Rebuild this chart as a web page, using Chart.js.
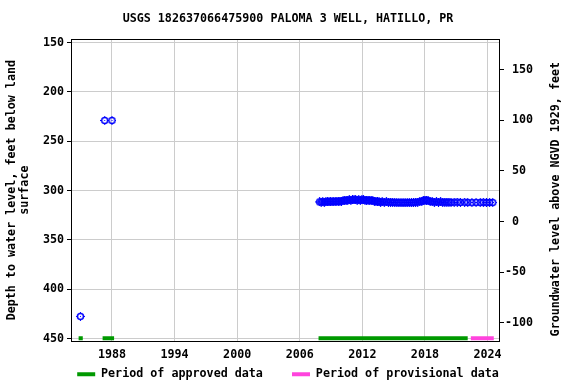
<!DOCTYPE html>
<html>
<head>
<meta charset="utf-8">
<script src="https://cdn.jsdelivr.net/npm/chart.js@4/dist/chart.umd.min.js"></script>
<style>
  html, body { margin: 0; padding: 0; background: #fff; }
  canvas { display: block; }
</style>
</head>
<body>
<canvas id="wellChart" width="576" height="384"></canvas>
<script>
// water level measurements (decimal year, depth below land surface in feet)
const obsYears = [
  1984.97, 1987.3, 1988.0,
  2007.9, 2008.05, 2008.2, 2008.35, 2008.5, 2008.65, 2008.8, 2008.95, 2009.1, 2009.25, 2009.4,
  2009.55, 2009.7, 2009.85, 2010.0, 2010.15, 2010.3, 2010.45, 2010.6, 2010.75, 2010.9,
  2011.05, 2011.2, 2011.35, 2011.5, 2011.65, 2011.8, 2011.95, 2012.1, 2012.25, 2012.4,
  2012.55, 2012.7, 2012.85, 2013.0, 2013.15, 2013.3, 2013.45, 2013.6, 2013.75, 2013.9,
  2014.1, 2014.3, 2014.5, 2014.7, 2014.9, 2015.1, 2015.3, 2015.5, 2015.7, 2015.9,
  2016.1, 2016.3, 2016.5, 2016.7, 2016.9, 2017.1, 2017.3, 2017.5, 2017.7, 2017.85,
  2018.0, 2018.15, 2018.3, 2018.5, 2018.7, 2018.9, 2019.1, 2019.3, 2019.5, 2019.7,
  2019.9, 2020.1, 2020.3, 2020.5, 2020.8, 2021.1, 2021.4, 2021.8, 2022.1, 2022.5,
  2022.9, 2023.3, 2023.6, 2023.9, 2024.2, 2024.5
];
const obsDepths = [
  427.5, 229.0, 229.0,
  311.5, 311.6, 311.4, 311.6, 311.3, 311.5, 311.2, 311.4, 311.0, 311.3, 311.1,
  310.8, 311.0, 310.7, 310.6, 310.4, 310.1, 309.8, 309.6, 309.5, 309.7,
  309.3, 309.5, 309.2, 309.6, 309.4, 309.7, 309.5, 309.4, 309.8, 309.6,
  309.9, 309.7, 310.1, 310.3, 310.6, 311.0, 311.2, 311.4, 311.6, 311.4,
  311.7, 311.5, 311.8, 311.6, 312.0, 311.9, 312.3, 312.1, 312.4, 312.2,
  312.4, 312.2, 312.1, 312.3, 312.0, 311.8, 311.6, 311.3, 310.8, 310.2,
  309.6, 309.8, 310.3, 310.9, 311.3, 311.6, 311.4, 311.7, 311.5, 311.8,
  311.6, 311.9, 311.6, 312.0, 311.8, 311.7, 312.0, 311.8, 312.0, 312.2,
  312.0, 312.1, 311.9, 312.2, 312.0, 312.1
];

// approval periods [start, end] in decimal years
const approvedPeriods = [[1984.8, 1985.2], [1987.1, 1988.2], [2007.8, 2022.1]];
const provisionalPeriods = [[2022.4, 2024.6]];
const periodDepth = 449.6;

const xTicks = [1988, 1994, 2000, 2006, 2012, 2018, 2024];
const depthTicks = [150, 200, 250, 300, 350, 400, 450];
const elevTicks = [-100, -50, 0, 50, 100, 150];

const titleText = 'USGS 182637066475900 PALOMA 3 WELL, HATILLO, PR';
const leftTitle = ['Depth to water level, feet below land', 'surface'];
const rightTitle = 'Groundwater level above NGVD 1929, feet';

const FONT = 'DejaVu Sans Mono';
Chart.defaults.font.family = FONT;
Chart.defaults.font.size = 11.7;
Chart.defaults.font.weight = 'bold';
Chart.defaults.color = '#000';

// circle with small ticks and a centre dot, like the USGS marker
function makeMarker(color) {
  const c = document.createElement('canvas');
  c.width = 9; c.height = 9;
  const g = c.getContext('2d');
  g.strokeStyle = color;
  g.fillStyle = color;
  g.lineWidth = 1.5;
  g.beginPath();
  g.arc(4.5, 4.5, 3, 0, Math.PI * 2);
  g.stroke();
  g.lineWidth = 1;
  g.beginPath();
  g.moveTo(4.5, 0); g.lineTo(4.5, 1.5);
  g.moveTo(4.5, 7.5); g.lineTo(4.5, 9);
  g.moveTo(0, 4.5); g.lineTo(1.5, 4.5);
  g.moveTo(7.5, 4.5); g.lineTo(9, 4.5);
  g.stroke();
  g.fillRect(4, 4, 1, 1);
  return c;
}

function periodData(periods) {
  const out = [];
  periods.forEach(p => {
    out.push({x: p[0], y: periodDepth});
    out.push({x: p[1], y: periodDepth});
    out.push({x: p[1], y: null});
  });
  return out;
}

const framePlugin = {
  id: 'frame',
  beforeDatasetsDraw(chart) {
    const a = chart.chartArea;
    const ctx = chart.ctx;
    ctx.save();
    ctx.strokeStyle = '#000';
    ctx.lineWidth = 1;
    ctx.strokeRect(Math.round(a.left) + 0.5, Math.round(a.top) + 0.5,
      Math.round(a.right - a.left), Math.round(a.bottom - a.top));
    ctx.restore();
  },
  afterDraw(chart) {
    // right axis title reads bottom to top
    const a = chart.chartArea;
    const ctx = chart.ctx;
    ctx.save();
    ctx.translate(556, (a.top + a.bottom) / 2 + 9);
    ctx.rotate(-Math.PI / 2);
    ctx.font = 'bold 11.7px "' + FONT + '"';
    ctx.fillStyle = '#000';
    ctx.textAlign = 'center';
    ctx.textBaseline = 'middle';
    ctx.fillText(rightTitle, 0, 0);
    ctx.restore();
  }
};

const canvas = document.getElementById('wellChart');
new Chart(canvas, {
  type: 'scatter',
  data: {
    datasets: [
      {
        label: 'Depth',
        data: obsYears.map((x, i) => ({x: x, y: obsDepths[i]})),
        pointStyle: makeMarker('#0000ff'),
        pointRadius: 4.5,
        showLine: false
      },
      {
        label: 'Period of approved data',
        type: 'line',
        data: periodData(approvedPeriods),
        borderColor: '#009900',
        backgroundColor: '#009900',
        borderWidth: 4,
        borderCapStyle: 'butt',
        pointRadius: 0,
        spanGaps: false
      },
      {
        label: 'Period of provisional data',
        type: 'line',
        data: periodData(provisionalPeriods),
        borderColor: '#ff44dd',
        backgroundColor: '#ff44dd',
        borderWidth: 4,
        borderCapStyle: 'butt',
        pointRadius: 0,
        spanGaps: false
      }
    ]
  },
  options: {
    responsive: false,
    animation: false,
    devicePixelRatio: 1,
    layout: { padding: { left: 0, right: 0, top: 0, bottom: -6 } },
    plugins: {
      tooltip: { enabled: false },
      title: {
        display: true,
        text: titleText,
        color: '#000',
        font: { size: 11.7, weight: 'bold', lineHeight: 1.2 },
        padding: { top: 12, bottom: 13 }
      },
      legend: {
        display: true,
        position: 'bottom',
        labels: {
          boxWidth: 18,
          boxHeight: 4,
          padding: 8,
          color: '#000',
          font: { size: 11.7, weight: 'bold' },
          generateLabels(chart) {
            const items = Chart.defaults.plugins.legend.labels.generateLabels(chart)
              .filter(it => it.datasetIndex > 0);
            items.forEach((it, i) => {
              it.lineWidth = 0;
              it.fillStyle = it.strokeStyle;
              if (i === 0) it.text = it.text + '   ';
            });
            return items;
          }
        }
      }
    },
    scales: {
      x: {
        type: 'linear',
        min: 1984.07,
        max: 2025.1,
        afterBuildTicks: s => { s.ticks = xTicks.map(v => ({value: v})); },
        afterFit: s => { s.height = 19; },
        ticks: { padding: 7, maxRotation: 0, callback: v => String(v) },
        grid: { color: '#cccccc', drawTicks: false },
        border: { color: '#000' }
      },
      y: {
        type: 'linear',
        position: 'left',
        reverse: true,
        min: 146.5,
        max: 452.7,
        afterBuildTicks: s => { s.ticks = depthTicks.map(v => ({value: v})); },
        afterFit: s => { s.width = 71; },
        ticks: { padding: 3, callback: v => String(v) },
        grid: { color: '#cccccc', tickColor: '#000', tickLength: 4 },
        border: { color: '#000' },
        title: {
          display: true,
          text: leftTitle,
          color: '#000',
          font: { size: 11.7, weight: 'bold', lineHeight: 1.11 },
          padding: { top: 5, bottom: 0 }
        }
      },
      y2: {
        type: 'linear',
        position: 'right',
        min: -118.5,
        max: 180.4,
        afterBuildTicks: s => { s.ticks = elevTicks.map(v => ({value: v})); },
        afterFit: s => { s.width = 77; },
        ticks: { padding: 1, callback: v => (v < 0 ? String(v) : ' ' + v) },
        grid: { drawOnChartArea: false, tickColor: '#000', tickLength: 5 },
        border: { color: '#000' }
      }
    }
  },
  plugins: [framePlugin]
});
</script>
</body>
</html>
